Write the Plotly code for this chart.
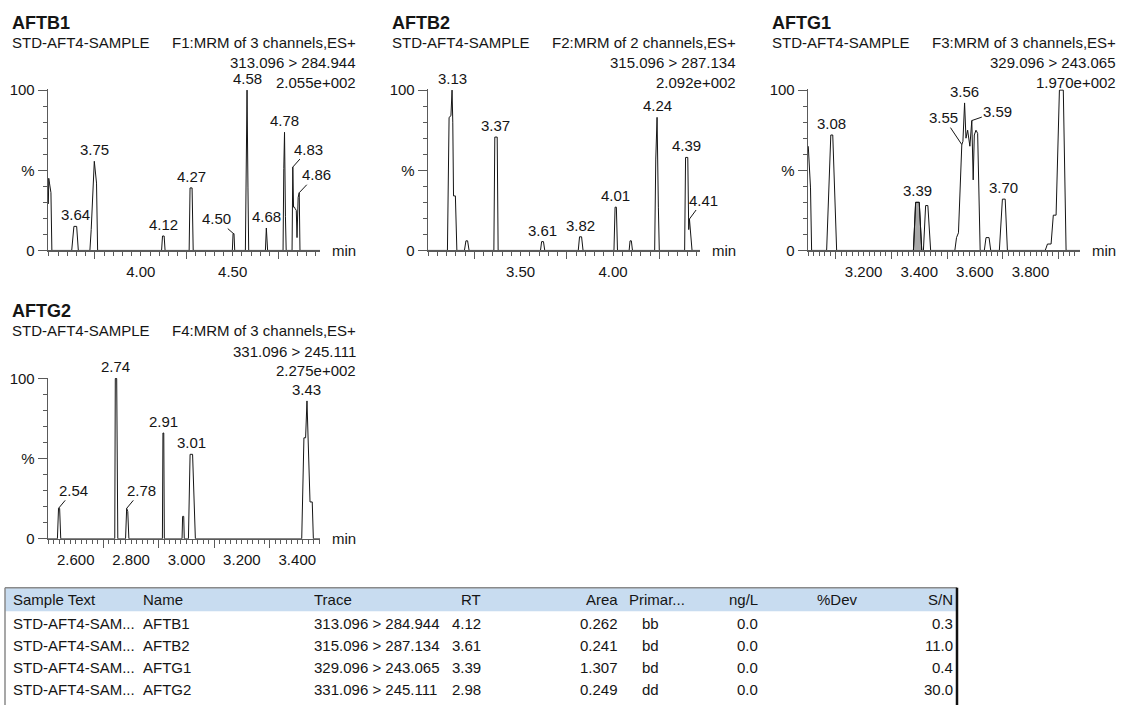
import numpy as np
import plotly.graph_objects as go

W, H = 1128, 713
FONT = "Liberation Sans, Arial, Helvetica, sans-serif"
INK = "#151515"
AXC = "#5a5a5a"

# ---------------- data ----------------
sample_name = "STD-AFT4-SAMPLE"
compounds = ["AFTB1", "AFTB2", "AFTG1", "AFTG2"]
functions = ["F1:MRM of 3 channels,ES+", "F2:MRM of 2 channels,ES+",
             "F3:MRM of 3 channels,ES+", "F4:MRM of 3 channels,ES+"]
transitions = ["313.096 > 284.944", "315.096 > 287.134",
               "329.096 > 243.065", "331.096 > 245.111"]
base_intensity = ["2.055e+002", "2.092e+002", "1.970e+002", "2.275e+002"]

# chromatogram vertices: retention time (min) and relative intensity (%)
b1_time = [3.497, 3.499, 3.503, 3.507, 3.511, 3.516,
           3.624, 3.636, 3.651, 3.660,
           3.723, 3.730, 3.747, 3.759, 3.765,
           4.113, 4.118, 4.127, 4.132,
           4.263, 4.268, 4.279, 4.285,
           4.498, 4.502, 4.507, 4.511,
           4.569, 4.574, 4.578, 4.583, 4.587,
           4.678, 4.683, 4.690,
           4.774, 4.778, 4.782, 4.787, 4.791,
           4.823, 4.827, 4.831, 4.836, 4.840, 4.846, 4.850, 4.856, 4.862, 4.866,
           4.975]
b1_pct = [29, 45, 42, 36, 36, 0,
          0, 15, 15, 0,
          0, 13, 55.6, 42, 0,
          0, 9, 9, 0,
          0, 39, 39, 0,
          0, 10.5, 10.5, 0,
          0, 40, 100, 39, 0,
          0, 14, 0,
          0, 51, 73.7, 21, 0,
          0, 52, 27, 27, 26, 25, 8, 33, 36, 0,
          0]

b2_time = [3.000, 3.105, 3.114, 3.124, 3.130, 3.134, 3.138, 3.148, 3.156,
           3.197, 3.205, 3.214, 3.222,
           3.356, 3.361, 3.374, 3.379,
           3.608, 3.614, 3.624, 3.631,
           3.812, 3.819, 3.830, 3.838,
           4.005, 4.011, 4.018, 4.024,
           4.087, 4.092, 4.099, 4.105,
           4.225, 4.231, 4.238, 4.245, 4.250,
           4.387, 4.392, 4.404, 4.409, 4.413, 4.427,
           4.470]
b2_pct = [0, 0, 83, 84, 100, 80, 34, 34, 0,
          0, 6, 6, 0,
          0, 70.7, 70.7, 0,
          0, 5.5, 5.5, 0,
          0, 8.5, 8.5, 0,
          0, 27, 27, 0,
          0, 6, 6, 0,
          0, 57, 83, 27, 0,
          0, 58, 58, 13, 19.6, 0,
          0]

g1_time = [3.001, 3.009, 3.013,
           3.067, 3.082, 3.089, 3.103,
           3.379, 3.387, 3.400, 3.409,
           3.415, 3.423, 3.431, 3.441,
           3.528, 3.534, 3.541, 3.553, 3.557, 3.563, 3.568, 3.574, 3.582,
           3.589, 3.594, 3.598, 3.604, 3.610, 3.619,
           3.634, 3.640, 3.651, 3.657,
           3.688, 3.699, 3.709, 3.717,
           3.853, 3.861, 3.874, 3.882, 3.892, 3.904, 3.918, 3.928,
           3.978]
g1_pct = [65, 39, 0,
          0, 72, 72, 0,
          0, 30, 30, 0,
          0, 28, 28, 0,
          0, 8, 11, 66, 68, 92, 70, 75, 65,
          81, 44, 72, 75, 73, 0,
          0, 8, 8, 0,
          0, 32, 32, 0,
          0, 4, 4, 22, 22, 100, 100, 0,
          0]
# integrated (shaded) peak in AFTG1
g1_area_time = [3.379, 3.387, 3.400, 3.409]
g1_area_pct = [0, 30, 30, 0]

g2_time = [2.500,
           2.534, 2.538, 2.542, 2.546,
           2.741, 2.743, 2.748, 2.752,
           2.780, 2.784, 2.788, 2.792,
           2.913, 2.915, 2.918, 2.920,
           2.984, 2.986, 2.990, 2.992,
           3.007, 3.013, 3.022, 3.032,
           3.416, 3.424, 3.430, 3.435, 3.446, 3.454, 3.458,
           3.482]
g2_pct = [0,
          0, 19, 19, 0,
          0, 100, 100, 0,
          0, 19, 17, 0,
          0, 66, 66, 0,
          0, 14, 14, 0,
          0, 52.7, 52.7, 0,
          0, 63, 63, 86, 23, 23, 0,
          0]

# peak annotations
b1_peak_rt = [3.643, 3.747, 4.122, 4.274, 4.504, 4.578, 4.683, 4.782, 4.827, 4.862]
b1_peak_pct = [15, 55.6, 9, 39, 10.5, 100, 14, 73.7, 52, 36]
b1_peak_txt = ["3.64", "3.75", "4.12", "4.27", "4.50", "4.58", "4.68", "4.78", "4.83", "4.86"]

b2_peak_rt = [3.130, 3.367, 3.619, 3.825, 4.014, 4.238, 4.398, 4.413]
b2_peak_pct = [100, 70.7, 5.5, 8.5, 27, 83, 58, 19.6]
b2_peak_txt = ["3.13", "3.37", "3.61", "3.82", "4.01", "4.24", "4.39", "4.41"]

g1_peak_rt = [3.085, 3.393, 3.553, 3.563, 3.589, 3.704]
g1_peak_pct = [72, 30, 66, 92, 81, 32]
g1_peak_txt = ["3.08", "3.39", "3.55", "3.56", "3.59", "3.70"]

g2_peak_rt = [2.538, 2.745, 2.784, 2.916, 3.017, 3.435]
g2_peak_pct = [19, 100, 19, 66, 52.7, 86]
g2_peak_txt = ["2.54", "2.74", "2.78", "2.91", "3.01", "3.43"]

# axis ranges and tick values
x_ranges = [[3.495, 4.975], [3.000, 4.470], [3.000, 3.978], [2.500, 3.482]]
label_ticks = [[4.00, 4.50], [3.50, 4.00], [3.2, 3.4, 3.6, 3.8], [2.6, 2.8, 3.0, 3.2, 3.4]]
label_text = [["4.00", "4.50"], ["3.50", "4.00"],
              ["3.200", "3.400", "3.600", "3.800"],
              ["2.600", "2.800", "3.000", "3.200", "3.400"]]
long_ticks = [[3.75, 4.25, 4.75], [3.25, 3.75, 4.25], [3.1, 3.3, 3.5, 3.7, 3.9], [2.7, 2.9, 3.1, 3.3]]
minor_step = [0.05, 0.05, 0.02, 0.02]

# results table
tbl_header = ["Sample Text", "Name", "Trace", "RT", "Area", "Primar...", "ng/L", "%Dev", "S/N"]
tbl_sample = ["STD-AFT4-SAM...", "STD-AFT4-SAM...", "STD-AFT4-SAM...", "STD-AFT4-SAM..."]
tbl_name = ["AFTB1", "AFTB2", "AFTG1", "AFTG2"]
tbl_trace = ["313.096 > 284.944", "315.096 > 287.134", "329.096 > 243.065", "331.096 > 245.111"]
tbl_rt = ["4.12", "3.61", "3.39", "2.98"]
tbl_area = ["0.262", "0.241", "1.307", "0.249"]
tbl_primary = ["bb", "bd", "bd", "dd"]
tbl_ngl = ["0.0", "0.0", "0.0", "0.0"]
tbl_dev = ["", "", "", ""]
tbl_sn = ["0.3", "11.0", "0.4", "30.0"]

# ---------------- layout geometry (pixels) ----------------
panel_left = [48, 428, 808, 48]
panel_top = [83, 83, 83, 378]
PW, PH = 272, 165

# leader-line offsets (px) for labels drawn away from their peak
leaders = {(0, "4.50"): (-17, -15), (0, "4.83"): (16, -18), (0, "4.86"): (17, -18),
           (1, "4.41"): (14, -19),
           (2, "3.55"): (-18, -27), (2, "3.59"): (26, -9),
           (3, "2.54"): (15, -18), (3, "2.78"): (15, -18)}


def px(x):
    return x / W


def py(y):
    return 1 - y / H


traces = [(b1_time, b1_pct), (b2_time, b2_pct), (g1_time, g1_pct), (g2_time, g2_pct)]
peaks = [(b1_peak_rt, b1_peak_pct, b1_peak_txt), (b2_peak_rt, b2_peak_pct, b2_peak_txt),
         (g1_peak_rt, g1_peak_pct, g1_peak_txt), (g2_peak_rt, g2_peak_pct, g2_peak_txt)]

fig = go.Figure()
annotations = []
layout_axes = {}
tickfont = dict(family=FONT, size=15, color=INK)

for i in range(4):
    n = i + 1
    xid = "x" if n == 1 else f"x{n}"
    yid = "y" if n == 1 else f"y{n}"
    oid = f"x{n + 4}"
    L, T = panel_left[i], panel_top[i]

    if i == 2:
        fig.add_trace(go.Scatter(x=g1_area_time, y=g1_area_pct, mode="lines", fill="toself",
                                 fillcolor="#a9a9a9", line=dict(color=INK, width=1),
                                 xaxis=xid, yaxis=yid, hoverinfo="skip", showlegend=False))
    t, p = traces[i]
    fig.add_trace(go.Scatter(x=t, y=p, mode="lines", line=dict(color=INK, width=1),
                             xaxis=xid, yaxis=yid, hoverinfo="skip", showlegend=False))
    fig.add_trace(go.Scatter(x=[], y=[], xaxis=oid, yaxis=yid, showlegend=False))

    r0, r1 = x_ranges[i]
    st = minor_step[i]
    minor_vals = [round(v, 3) for v in np.arange(r0 - r0 % st + st, r1, st)]
    dom_x = [px(L), px(L + PW)]
    dom_y = [py(T + PH), py(T)]
    layout_axes["xaxis" if n == 1 else f"xaxis{n}"] = dict(
        domain=dom_x, range=x_ranges[i], anchor=yid, showline=True, linecolor=AXC, linewidth=1.3,
        showgrid=False, zeroline=False, ticks="outside", tickvals=label_ticks[i],
        ticktext=label_text[i], ticklen=4, tickwidth=1, tickcolor=AXC, tickfont=tickfont,
        ticklabelstandoff=3,
        minor=dict(ticks="outside", tickmode="array", tickvals=minor_vals, ticklen=4,
                   tickwidth=1, tickcolor=AXC, showgrid=False))
    layout_axes[f"xaxis{n + 4}"] = dict(
        overlaying=xid, anchor=yid, range=x_ranges[i], showline=False, showgrid=False,
        zeroline=False, ticks="outside", tickvals=long_ticks[i], ticklen=8, tickwidth=1,
        tickcolor=AXC, showticklabels=False)
    layout_axes["yaxis" if n == 1 else f"yaxis{n}"] = dict(
        domain=dom_y, range=[0, 100.6], anchor=xid, showline=True, linecolor=AXC, linewidth=1.3,
        showgrid=False, zeroline=False, ticks="outside", tickvals=[0, 50, 100],
        ticktext=["0", "%", "100"], ticklen=9, tickwidth=1, tickcolor=AXC, tickfont=tickfont,
        minor=dict(ticks="outside", tickmode="array", tickvals=[10, 20, 30, 40, 60, 70, 80, 90],
                   ticklen=4, tickwidth=1, tickcolor=AXC, showgrid=False))

    # header texts
    annotations.append(dict(text=f"<b>{compounds[i]}</b>", x=px(L - 38), y=py(T - 68),
                            xanchor="left", yanchor="middle",
                            font=dict(family=FONT, size=18, color=INK)))
    annotations.append(dict(text=sample_name, x=px(L - 38), y=py(T - 48),
                            xanchor="left", yanchor="middle", font=tickfont))
    annotations.append(dict(text=functions[i], x=px(L + 310), y=py(T - 48),
                            xanchor="right", yanchor="middle", font=tickfont))
    annotations.append(dict(text=transitions[i], x=px(L + 310), y=py(T - 27),
                            xanchor="right", yanchor="middle", font=tickfont))
    annotations.append(dict(text=base_intensity[i], x=px(L + 310), y=py(T - 7),
                            xanchor="right", yanchor="middle", font=tickfont))
    annotations.append(dict(text="min", x=px(L + 310), y=py(T + PH),
                            xanchor="right", yanchor="middle", font=tickfont))

    # peak labels
    rts, pcts, txts = peaks[i]
    for rt, pc, tx in zip(rts, pcts, txts):
        if (i, tx) in leaders:
            ax, ay = leaders[(i, tx)]
            annotations.append(dict(text=tx, x=rt, y=pc, xref=xid, yref=yid, showarrow=True,
                                    arrowhead=0, arrowwidth=1, arrowcolor=INK, ax=ax, ay=ay,
                                    standoff=0, font=tickfont))
        else:
            annotations.append(dict(text=tx, x=rt, y=pc, xref=xid, yref=yid, showarrow=False,
                                    xanchor="center", yanchor="bottom", yshift=1, font=tickfont))

# ---------------- results table (cells as text boxes) ----------------
TBL_L, TBL_R, TBL_T, HDR_B = 5, 957, 593, 617
col_x = [11, 141, 312, 483, 620, 627, 760, 837, 955]
hdr_anchor = ["left", "left", "left", "right", "right", "left", "right", "center", "right"]
cell_x = [11, 141, 312, 483, 620, 650, 760, 837, 955]
cell_anchor = ["left", "left", "left", "right", "right", "center", "right", "center", "right"]
HDR_Y = 605
ROW_Y0, ROW_DY = 630, 22.5
columns = [tbl_sample, tbl_name, tbl_trace, tbl_rt, tbl_area, tbl_primary, tbl_ngl, tbl_dev, tbl_sn]

for c, head in enumerate(tbl_header):
    annotations.append(dict(text=head, x=px(col_x[c]), y=py(HDR_Y), xanchor=hdr_anchor[c],
                            yanchor="middle", font=tickfont))
    for r, val in enumerate(columns[c]):
        if val:
            annotations.append(dict(text=val, x=px(cell_x[c]), y=py(ROW_Y0 + r * ROW_DY),
                                    xanchor=cell_anchor[c], yanchor="middle", font=tickfont))

for a in annotations:
    a.setdefault("xref", "paper")
    a.setdefault("yref", "paper")
    a.setdefault("showarrow", False)

shapes = [
    dict(type="rect", xref="paper", yref="paper", x0=px(TBL_L), x1=px(TBL_R),
         y0=py(HDR_B), y1=py(TBL_T), fillcolor="#c8dcf0", line=dict(width=0), layer="below"),
    dict(type="line", xref="paper", yref="paper", x0=px(TBL_L), x1=px(TBL_R),
         y0=py(TBL_T), y1=py(TBL_T), line=dict(color="#8a8a8a", width=1.5)),
    dict(type="line", xref="paper", yref="paper", x0=px(TBL_L), x1=px(TBL_L),
         y0=py(TBL_T), y1=0, line=dict(color="#8a8a8a", width=1.5)),
    dict(type="line", xref="paper", yref="paper", x0=px(TBL_R), x1=px(TBL_R),
         y0=py(TBL_T), y1=0, line=dict(color="#111111", width=2.5)),
]

fig.update_layout(width=W, height=H, margin=dict(l=0, r=0, t=0, b=0),
                  paper_bgcolor="white", plot_bgcolor="white", showlegend=False,
                  font=dict(family=FONT, size=15, color=INK),
                  annotations=annotations, shapes=shapes, **layout_axes)

fig.write_html("out.html", config={"displayModeBar": False, "staticPlot": True},
               post_script="document.body.style.margin='0px';document.body.style.overflow='hidden';")
